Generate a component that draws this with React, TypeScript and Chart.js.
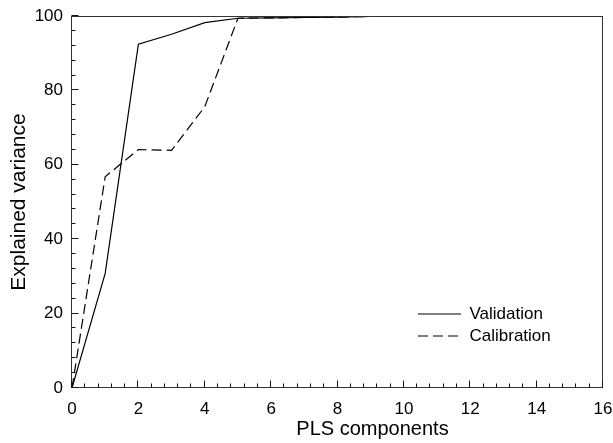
import React, { useEffect, useRef } from 'react';
import { Chart, registerables } from 'chart.js';

Chart.register(...registerables);

// ---- data ----
const components = [0, 1, 2, 3, 4, 5, 6, 7, 8, 9, 10, 11, 12, 13, 14, 15];
const validation = [0, 30.8, 92.4, 95.1, 98.2, 99.4, 99.5, 99.6, 99.7, 99.9, 100, 100, 100, 100, 100, 100];
const calibration = [0, 56.8, 64.1, 63.9, 75.6, 99.4, 99.5, 99.6, 99.7, 99.9, 100, 100, 100, 100, 100, 100];
const seriesLabels = ['Validation', 'Calibration'];
const seriesDash = [[], [10, 5]];
const xTitle = 'PLS components';
const yTitle = 'Explained variance';
const xRange = [0, 16];
const yRange = [0, 100];
const xStep = 2;
const yStep = 20;

const FONT = 'Arial, "Liberation Sans", Helvetica, sans-serif';

const framePlugin = {
  id: 'frame',
  beforeDraw(chart: any) {
    const lg = chart.legend;
    if (lg) {
      const a = chart.chartArea;
      const w = lg.width;
      const h = lg.height;
      lg.left = a.left + 341;
      lg.top = a.top + 284.5;
      lg.right = lg.left + w;
      lg.bottom = lg.top + h;
    }
  },
  afterDraw(chart: any) {
    const { ctx, chartArea: a, scales } = chart;
    const xs = scales.x;
    const ys = scales.y;
    ctx.save();
    const L = Math.round(a.left) - 0.5;
    const R = Math.round(a.right) - 0.5;
    const T = Math.round(a.top) + 0.5;
    const B = Math.round(a.bottom) - 0.5;
    ctx.strokeStyle = '#333';
    ctx.lineWidth = 1;
    ctx.setLineDash([]);
    ctx.strokeRect(L, T, R - L, B - T);
    ctx.strokeStyle = '#111';
    ctx.beginPath();
    const xMinor = xStep / 5;
    const nx = Math.round((xRange[1] - xRange[0]) / xMinor);
    for (let i = 0; i <= nx; i++) {
      const v = xRange[0] + i * xMinor;
      const px = Math.round(xs.getPixelForValue(v)) - 0.5;
      const len = i % 5 === 0 ? 7 : 4;
      ctx.moveTo(px, B);
      ctx.lineTo(px, B - len);
    }
    const yMinor = yStep / 5;
    const ny = Math.round((yRange[1] - yRange[0]) / yMinor);
    for (let i = 0; i <= ny; i++) {
      const v = yRange[0] + i * yMinor;
      const py = Math.round(ys.getPixelForValue(v)) - 0.5;
      const len = i % 5 === 0 ? 7 : 4;
      ctx.moveTo(L, py);
      ctx.lineTo(L + len, py);
    }
    ctx.stroke();
    // x axis title
    ctx.fillStyle = '#000';
    ctx.font = `20px ${FONT}`;
    ctx.textAlign = 'center';
    ctx.textBaseline = 'alphabetic';
    ctx.fillText(xTitle, (a.left + a.right) / 2 + 35, 435);
    ctx.restore();
  },
};

export default function App() {
  const ref = useRef<HTMLCanvasElement | null>(null);

  useEffect(() => {
    if (!ref.current) return;
    const chart = new Chart(ref.current, {
      type: 'line',
      data: {
        datasets: [
          {
            label: seriesLabels[0],
            data: components.map((c, i) => ({ x: c, y: validation[i] })),
            borderColor: '#000',
            backgroundColor: '#000',
            borderWidth: 1.2,
            borderDash: seriesDash[0],
            pointRadius: 0,
            pointStyle: 'line',
            tension: 0,
          },
          {
            label: seriesLabels[1],
            data: components.map((c, i) => ({ x: c, y: calibration[i] })),
            borderColor: '#000',
            backgroundColor: '#000',
            borderWidth: 1.2,
            borderDash: seriesDash[1],
            pointRadius: 0,
            pointStyle: 'line',
            tension: 0,
          },
        ],
      },
      options: {
        animation: false,
        responsive: false,
        devicePixelRatio: 1,
        layout: { padding: { left: 0, right: 10, top: 16, bottom: 0 } },
        plugins: {
          tooltip: { enabled: false },
          legend: {
            display: true,
            position: 'chartArea',
            align: 'start',
            labels: {
              usePointStyle: true,
              pointStyle: 'line',
              pointStyleWidth: 43,
              color: '#000',
              padding: 5,
              font: { family: FONT, size: 17 },
              generateLabels: (chart: any) => {
                const items = (Chart as any).defaults.plugins.legend.labels.generateLabels(chart);
                return items.map((it: any) => ({
                  ...it,
                  lineDash: seriesDash[it.datasetIndex] || [],
                  lineWidth: 1.2,
                  strokeStyle: '#000',
                  pointStyle: 'line',
                }));
              },
            },
          },
        },
        scales: {
          x: {
            type: 'linear',
            min: xRange[0],
            max: xRange[1],
            grid: { display: false, drawTicks: false },
            border: { display: false },
            ticks: {
              stepSize: xStep,
              padding: 11,
              color: '#000',
              maxRotation: 0,
              font: { family: FONT, size: 17 },
            },
            afterFit: (s: any) => {
              s.height = 55;
              s.paddingLeft = 0;
              s.paddingRight = 0;
            },
          },
          y: {
            type: 'linear',
            min: yRange[0],
            max: yRange[1],
            grid: { display: false, drawTicks: false },
            border: { display: false },
            ticks: {
              stepSize: yStep,
              padding: 9,
              color: '#000',
              font: { family: FONT, size: 17 },
            },
            title: {
              display: true,
              text: yTitle,
              color: '#000',
              padding: { top: 7, bottom: 0 },
              font: { family: FONT, size: 21 },
            },
            afterFit: (s: any) => {
              s.width = 72;
              s.paddingTop = 0;
              s.paddingBottom = 0;
            },
          },
        },
      },
      plugins: [framePlugin],
    } as any);
    return () => chart.destroy();
  }, []);

  return (
    <div style={{ position: 'fixed', left: 0, top: 0, width: 613, height: 443, background: '#fff' }}>
      <canvas ref={ref} width={613} height={443} style={{ display: 'block' }} />
    </div>
  );
}
